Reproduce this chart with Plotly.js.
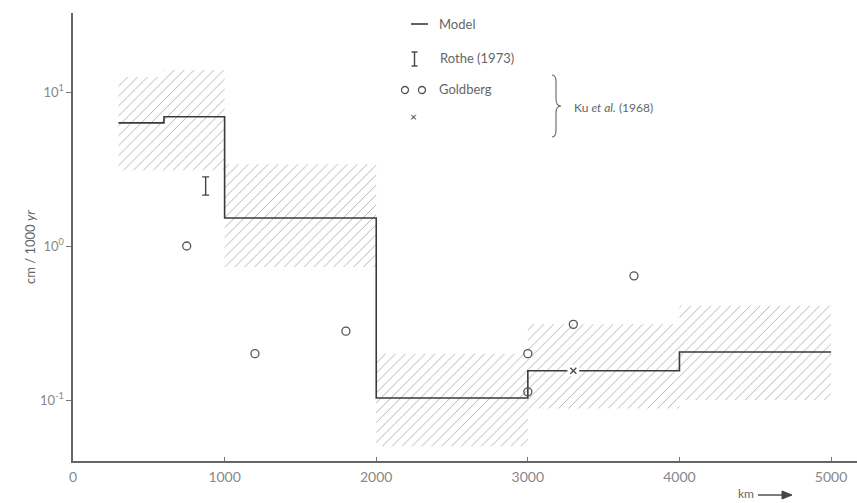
<!DOCTYPE html>
<html>
<head>
<meta charset="utf-8">
<script src="https://cdn.plot.ly/plotly-3.0.1.min.js"></script>
<style>html,body{margin:0;padding:0;background:#fff;}#chart{width:857px;height:503px;}</style>
</head>
<body>
<div id="chart"></div>
<script>
// ---- data ----
var modelX = [300, 600, 1000, 2000, 3000, 4000, 5000];
var modelY = [6.3, 6.9, 1.52, 0.103, 0.155, 0.205, 0.205];

var bandStart = [300, 600, 1000, 2000, 3000, 4000];
var bandEnd   = [600, 1000, 2000, 3000, 4000, 5000];
var bandLow   = [3.1, 3.1, 0.73, 0.05, 0.088, 0.10];
var bandHigh  = [12.5, 13.9, 3.4, 0.20, 0.31, 0.41];

var rotheX = [875];
var rotheY = [2.45];
var rotheUp = [2.81];
var rotheDown = [2.14];

var goldbergX = [750, 1200, 1800, 3000, 3000, 3300, 3700];
var goldbergY = [1.0, 0.20, 0.28, 0.20, 0.113, 0.31, 0.64];

var kuX = [3300];
var kuY = [0.155];

var xTickVals = [0, 1000, 2000, 3000, 4000, 5000];
var xTickText = ['0', '1000', '2000', '3000', '4000', '5000'];
var yTickVals = [0.1, 1, 10];
var yTickText = ['10<sup>-1</sup>', '10<sup>0</sup>', '10<sup>1</sup>'];

// ---- build band polygons ----
var polyX = [], polyY = [];
for (var i = 0; i < bandStart.length; i++) {
  polyX.push(bandStart[i], bandEnd[i], bandEnd[i], bandStart[i], bandStart[i], null);
  polyY.push(bandLow[i], bandLow[i], bandHigh[i], bandHigh[i], bandLow[i], null);
}

var ink = '#555';
var textCol = '#666';
var font = 'Lato, "Liberation Sans", sans-serif';

var traces = [
  {
    x: polyX, y: polyY, mode: 'lines', fill: 'toself',
    line: {width: 0, color: 'rgba(0,0,0,0)'},
    fillcolor: 'rgba(0,0,0,0)',
    fillpattern: {shape: '/', size: 7, solidity: 0.14, fgcolor: '#b4b4b4', bgcolor: 'rgba(255,255,255,0)'},
    hoverinfo: 'skip', showlegend: false
  },
  {
    x: modelX, y: modelY, mode: 'lines', line: {shape: 'hv', color: '#3a3a3a', width: 1.6},
    showlegend: false
  },
  {
    x: rotheX, y: rotheY, mode: 'markers', marker: {size: 1, color: 'rgba(0,0,0,0)'},
    error_y: {type: 'data', symmetric: false,
      array: rotheUp.map(function (v, k) { return v - rotheY[k]; }),
      arrayminus: rotheDown.map(function (v, k) { return rotheY[k] - v; }),
      color: '#444', thickness: 1.4, width: 3.5},
    showlegend: false
  },
  {
    x: goldbergX, y: goldbergY, mode: 'markers',
    marker: {symbol: 'circle-open', size: 8, color: ink, line: {width: 1.3, color: ink}},
    showlegend: false
  },
  {
    x: kuX, y: kuY, mode: 'markers',
    marker: {symbol: 'circle', size: 12, color: '#fff'},
    showlegend: false
  },
  {
    x: kuX, y: kuY, mode: 'markers',
    marker: {symbol: 'x-thin-open', size: 6, color: '#444', line: {width: 1.3, color: '#444'}},
    showlegend: false
  }
];

// pixel -> paper helpers for legend decorations
function px(x) { return (x - 73) / 784; }
function py(y) { return (461 - y) / 448; }

var bx = 555;
var bracePath = 'M ' + px(bx - 3) + ',' + py(75) +
  ' Q ' + px(bx + 1) + ',' + py(75) + ' ' + px(bx + 1) + ',' + py(82) +
  ' L ' + px(bx + 1) + ',' + py(99) +
  ' Q ' + px(bx + 1) + ',' + py(106) + ' ' + px(bx + 6) + ',' + py(106) +
  ' Q ' + px(bx + 1) + ',' + py(106) + ' ' + px(bx + 1) + ',' + py(113) +
  ' L ' + px(bx + 1) + ',' + py(130) +
  ' Q ' + px(bx + 1) + ',' + py(137) + ' ' + px(bx - 3) + ',' + py(137);

var shapes = [
  {type: 'line', xref: 'paper', yref: 'paper', x0: px(411), x1: px(428), y0: py(24), y1: py(24), line: {color: '#3a3a3a', width: 1.6}},
  {type: 'line', xref: 'paper', yref: 'paper', x0: px(414.5), x1: px(414.5), y0: py(52), y1: py(66), line: {color: '#444', width: 1.4}},
  {type: 'line', xref: 'paper', yref: 'paper', x0: px(411.5), x1: px(417.5), y0: py(52), y1: py(52), line: {color: '#444', width: 1.4}},
  {type: 'line', xref: 'paper', yref: 'paper', x0: px(411.5), x1: px(417.5), y0: py(66), y1: py(66), line: {color: '#444', width: 1.4}},
  {type: 'circle', xref: 'paper', yref: 'paper', x0: px(401.5), x1: px(408.5), y0: py(86.5), y1: py(93.5), line: {color: ink, width: 1.3}},
  {type: 'circle', xref: 'paper', yref: 'paper', x0: px(418.5), x1: px(425.5), y0: py(86.5), y1: py(93.5), line: {color: ink, width: 1.3}},
  {type: 'path', xref: 'paper', yref: 'paper', path: bracePath, line: {color: '#666', width: 1.1}},
  {type: 'line', xref: 'paper', yref: 'paper', x0: px(758), x1: px(786), y0: py(495), y1: py(495), line: {color: '#444', width: 1.4}},
  {type: 'path', xref: 'paper', yref: 'paper', fillcolor: '#444', line: {color: '#444', width: 1},
   path: 'M ' + px(792) + ',' + py(495) + ' L ' + px(782) + ',' + py(491) + ' L ' + px(782) + ',' + py(499) + ' Z'}
];

var annFont = {family: font, size: 13, color: textCol};
var annotations = [
  {xref: 'paper', yref: 'paper', x: px(437), y: py(24), xanchor: 'left', yanchor: 'middle', text: 'Model', showarrow: false, font: annFont},
  {xref: 'paper', yref: 'paper', x: px(438), y: py(58), xanchor: 'left', yanchor: 'middle', text: 'Rothe (1973)', showarrow: false, font: annFont},
  {xref: 'paper', yref: 'paper', x: px(437), y: py(89), xanchor: 'left', yanchor: 'middle', text: 'Goldberg', showarrow: false, font: annFont},
  {xref: 'paper', yref: 'paper', x: px(413.5), y: py(117), xanchor: 'center', yanchor: 'middle', text: '×', showarrow: false, font: {family: font, size: 12, color: '#444'}},
  {xref: 'paper', yref: 'paper', x: px(572), y: py(107), xanchor: 'left', yanchor: 'middle', text: 'Ku <i>et al.</i> (1968)', showarrow: false, font: {family: font, size: 12, color: textCol}},
  {xref: 'paper', yref: 'paper', x: px(30), y: py(247), xanchor: 'center', yanchor: 'middle', text: 'cm / 1000 <i>yr</i>', textangle: -90, showarrow: false, font: annFont},
  {xref: 'paper', yref: 'paper', x: px(746), y: py(494), xanchor: 'center', yanchor: 'middle', text: 'km', showarrow: false, font: {family: font, size: 12, color: textCol}}
];

var layout = {
  width: 857, height: 503,
  margin: {l: 73, r: 0, t: 13, b: 42},
  paper_bgcolor: '#fff', plot_bgcolor: '#fff',
  showlegend: false,
  xaxis: {
    range: [0, 5171], showgrid: false, zeroline: false,
    showline: true, linecolor: '#666', linewidth: 1.6,
    ticks: 'inside', ticklen: 4, tickcolor: '#777', tickwidth: 1,
    tickvals: xTickVals, ticktext: xTickText, ticklabelstandoff: 3,
    tickfont: {family: font, size: 14, color: '#888'}
  },
  yaxis: {
    type: 'log', range: [-1.396, 1.513], showgrid: false, zeroline: false,
    showline: true, linecolor: '#666', linewidth: 1.6,
    ticks: 'outside', ticklen: 5, tickcolor: '#777', tickwidth: 1,
    tickvals: yTickVals, ticktext: yTickText,
    tickfont: {family: font, size: 13, color: '#888'}
  },
  shapes: shapes,
  annotations: annotations
};

Plotly.newPlot('chart', traces, layout, {staticPlot: true, displayModeBar: false});
</script>
</body>
</html>
